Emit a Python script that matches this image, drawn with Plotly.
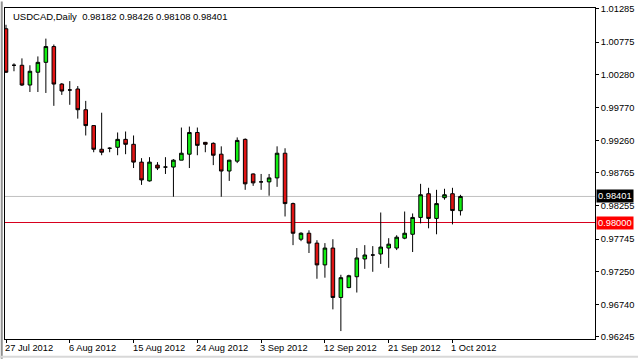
import plotly.graph_objects as go

symbol = "USDCAD"
period = "Daily"

dates = [
    "2012-07-27", "2012-07-29", "2012-07-30", "2012-07-31", "2012-08-01", "2012-08-02", "2012-08-03",
    "2012-08-05", "2012-08-06", "2012-08-07", "2012-08-08", "2012-08-09", "2012-08-10",
    "2012-08-12", "2012-08-13", "2012-08-14", "2012-08-15", "2012-08-16", "2012-08-17",
    "2012-08-19", "2012-08-20", "2012-08-21", "2012-08-22", "2012-08-23", "2012-08-24",
    "2012-08-26", "2012-08-27", "2012-08-28", "2012-08-29", "2012-08-30", "2012-08-31",
    "2012-09-02", "2012-09-03", "2012-09-04", "2012-09-05", "2012-09-06", "2012-09-07",
    "2012-09-09", "2012-09-10", "2012-09-11", "2012-09-12", "2012-09-13", "2012-09-14",
    "2012-09-16", "2012-09-17", "2012-09-18", "2012-09-19", "2012-09-20", "2012-09-21",
    "2012-09-23", "2012-09-24", "2012-09-25", "2012-09-26", "2012-09-27", "2012-09-28",
    "2012-09-30", "2012-10-01", "2012-10-02",
]

open_ = [
    1.00981, 1.00419, 1.00419, 1.00115, 1.00312, 1.00464, 1.00707,
    1.00130, 1.00039, 1.00054, 0.99735, 0.99491, 0.99127,
    0.99142, 0.99157, 0.99279, 0.99203, 0.98929, 0.98640,
    0.98883, 0.98853, 0.98853, 0.98959, 0.99051, 0.99385,
    0.99233, 0.99218, 0.99051, 0.98792, 0.98944, 0.99279,
    0.98747, 0.98625, 0.98625, 0.98686, 0.99066, 0.98291,
    0.97743, 0.97835, 0.97683, 0.97348, 0.97607, 0.96847,
    0.96999, 0.97166, 0.97439, 0.97500, 0.97515, 0.97607,
    0.97607, 0.97759, 0.97819, 0.98078, 0.98443, 0.98063,
    0.98382, 0.98443, 0.98182,
]
high = [
    1.01042, 1.00449, 1.00525, 1.00419, 1.00555, 1.00829, 1.00738,
    1.00145, 1.00175, 1.00099, 0.99871, 0.99495, 0.99689,
    0.99157, 0.99385, 0.99400, 0.99339, 0.98990, 0.99005,
    0.98929, 0.99005, 0.98975, 0.99461, 0.99476, 0.99461,
    0.99240, 0.99233, 0.99172, 0.98965, 0.99309, 0.99294,
    0.98755, 0.98747, 0.98747, 0.99172, 0.99142, 0.98306,
    0.97850, 0.97880, 0.97728, 0.97683, 0.97743, 0.97196,
    0.97196, 0.97607, 0.97652, 0.97637, 0.98154, 0.97759,
    0.97804, 0.98169, 0.98139, 0.98595, 0.98534, 0.98503,
    0.98519, 0.98534, 0.98426,
]
low = [
    1.00300, 1.00327, 1.00100, 1.00008, 1.00008, 0.99993, 0.99795,
    0.99963, 0.99811, 0.99598, 0.99339, 0.99081, 0.99035,
    0.99081, 0.99035, 0.99051, 0.98838, 0.98579, 0.98630,
    0.98807, 0.98747, 0.98397, 0.98959, 0.98838, 0.99035,
    0.99081, 0.98883, 0.98397, 0.98640, 0.98914, 0.98503,
    0.98564, 0.98503, 0.98412, 0.98549, 0.98093, 0.97652,
    0.97713, 0.97531, 0.97135, 0.97151, 0.96664, 0.96330,
    0.96990, 0.96923, 0.97287, 0.97242, 0.97363, 0.97303,
    0.97576, 0.97743, 0.97546, 0.97987, 0.97911, 0.97819,
    0.98351, 0.97971, 0.98108,
]
close = [
    1.00312, 1.00419, 1.00115, 1.00327, 1.00464, 1.00707, 1.00130,
    1.00023, 1.00039, 0.99735, 0.99491, 0.99127, 0.99081,
    0.99142, 0.99279, 0.99203, 0.98929, 0.98655, 0.98929,
    0.98838, 0.98853, 0.98959, 0.99066, 0.99385, 0.99187,
    0.99203, 0.99035, 0.98792, 0.98959, 0.99263, 0.98595,
    0.98610, 0.98625, 0.98686, 0.99066, 0.98291, 0.97835,
    0.97835, 0.97683, 0.97348, 0.97607, 0.96847, 0.97151,
    0.97181, 0.97455, 0.97500, 0.97500, 0.97622, 0.97667,
    0.97774, 0.97835, 0.98078, 0.98427, 0.98063, 0.98291,
    0.98427, 0.98184, 0.98401,
]

price_ticks = [1.01285, 1.00775, 1.00280, 0.99770, 0.99260, 0.98765, 0.98255,
               0.97745, 0.97250, 0.96740, 0.96245]
date_ticks = ["2012-07-27", "2012-08-06", "2012-08-15", "2012-08-24",
              "2012-09-03", "2012-09-12", "2012-09-21", "2012-10-01"]
date_tick_labels = ["27 Jul 2012", "6 Aug 2012", "15 Aug 2012", "24 Aug 2012",
                    "3 Sep 2012", "12 Sep 2012", "21 Sep 2012", "1 Oct 2012"]
level_line = 0.98000

FONT = "Tahoma, 'Liberation Sans', Arial, sans-serif"
FS = 9.3

fig = go.Figure()
fig.add_trace(go.Candlestick(
    x=dates, open=open_, high=high, low=low, close=close,
    increasing=dict(fillcolor="#11EE11", line=dict(color="black", width=1)),
    decreasing=dict(fillcolor="#E01414", line=dict(color="black", width=1)),
    whiskerwidth=0, hoverinfo="skip", showlegend=False,
))

bid = close[-1]
fig.add_hline(y=bid, line=dict(color="#C0C0C0", width=1), layer="below")
fig.add_hline(y=level_line, line=dict(color="rgb(215,0,30)", width=1), layer="below")

title = (f"{symbol},{period}\u00a0\u00a0{open_[-1]:.5f} {high[-1]:.5f} "
         f"{low[-1]:.5f} {close[-1]:.5f}")

annotations = [
    dict(text=title, xref="paper", yref="paper", x=0.0095, y=0.974,
         xanchor="left", yanchor="middle", showarrow=False,
         font=dict(family=FONT, size=9.5, color="black")),
    dict(text=f"{bid:.5f}", xref="paper", yref="y", x=1.0015, y=bid,
         xanchor="left", yanchor="middle", showarrow=False, bgcolor="black",
         borderpad=1, font=dict(family=FONT, size=FS, color="white")),
    dict(text=f"{level_line:.5f}", xref="paper", yref="y", x=1.0015, y=level_line,
         xanchor="left", yanchor="middle", showarrow=False, bgcolor="#FF0000",
         borderpad=1, font=dict(family=FONT, size=FS, color="white")),
]
for d, lab in zip(date_ticks, date_tick_labels):
    annotations.append(dict(text=lab, xref="x", yref="paper", x=d, y=-0.028,
                            xanchor="left", yanchor="middle", xshift=-3,
                            showarrow=False,
                            font=dict(family=FONT, size=FS, color="black")))

shapes = [
    # chart shift marker
    dict(type="path", xref="paper", yref="paper",
         path="M 0.7905,1.0 L 0.8065,1.0 L 0.7985,0.986 Z",
         fillcolor="#B4B4B4", line=dict(width=0)),
    # window border lines
    dict(type="line", xref="paper", yref="paper", x0=-0.01, x1=1.08, y0=1.0105, y1=1.0105,
         line=dict(color="#909090", width=2)),
    dict(type="line", xref="paper", yref="paper", x0=-0.0055, x1=-0.0055, y0=-0.06, y1=1.02,
         line=dict(color="#909090", width=2)),
    dict(type="line", xref="paper", yref="paper", x0=-0.01, x1=1.08, y0=-0.054, y1=-0.054,
         line=dict(color="#D8D8D8", width=2)),
]

fig.update_layout(
    width=638, height=359,
    margin=dict(l=4, r=42, t=4, b=20),
    paper_bgcolor="white", plot_bgcolor="white",
    boxgap=0.36,
    showlegend=False,
    annotations=annotations,
    shapes=shapes,
    xaxis=dict(
        type="category", range=[-0.125, 73.875],
        rangeslider=dict(visible=False),
        showgrid=False, zeroline=False,
        showline=True, linecolor="black", linewidth=1, mirror=True,
        tickmode="array", tickvals=date_ticks, ticktext=[""] * len(date_ticks),
        ticks="outside", ticklen=3, tickcolor="black", showticklabels=False,
    ),
    yaxis=dict(
        side="right", range=[0.96208, 1.01300],
        showgrid=False, zeroline=False,
        showline=True, linecolor="black", linewidth=1, mirror=True,
        tickmode="array", tickvals=price_ticks,
        ticktext=[f"{v:.5f}" for v in price_ticks],
        ticks="outside", ticklen=3, tickcolor="black",
        tickfont=dict(family=FONT, size=FS, color="black"),
    ),
)

fig.write_html("out.html")
